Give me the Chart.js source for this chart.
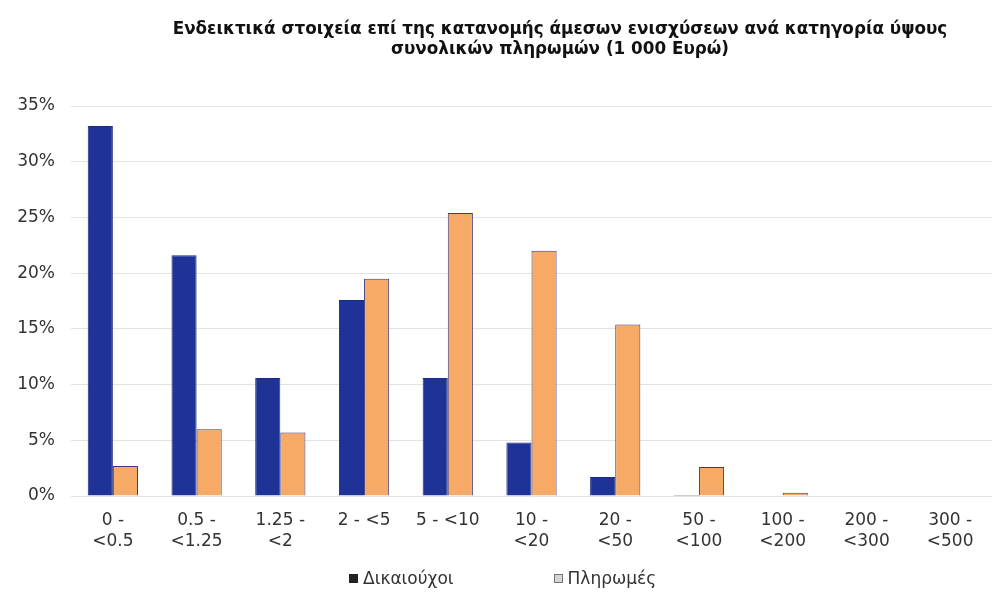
<!DOCTYPE html>
<html>
<head>
<meta charset="utf-8">
<script src="https://cdn.jsdelivr.net/npm/chart.js@4/dist/chart.umd.min.js"></script>
<style>
    html, body { margin: 0; padding: 0; background: #ffffff; overflow: hidden; }
    #wrap { position: relative; width: 992px; height: 599px; }
    #distChart { position: absolute; left: 0; top: 0; }
    .chart-title {
        position: absolute; left: 0; top: 18px; width: 1120px;
        text-align: center; font: bold 16.8px/20px "DejaVu Sans", sans-serif; color: #111;
    }
    .chart-legend {
        position: absolute; left: 349px; top: 568px; display: flex;
        font: 17px/20px "DejaVu Sans", sans-serif; color: #333;
    }
    .legend-item { display: flex; align-items: center; margin-right: 100px; }
    .legend-box { width: 9px; height: 9px; margin-right: 5px; box-sizing: border-box; }
</style>
</head>
<body>
<div id="wrap">
    <canvas id="distChart"></canvas>
    <div class="chart-title" id="chartTitle"></div>
    <div class="chart-legend" id="chartLegend"></div>
</div>
<script>
// Payment brackets (thousand euro)
const categories = [
    ['0 -', '<0.5'], ['0.5 -', '<1.25'], ['1.25 -', '<2'], '2 - <5', '5 - <10',
    ['10 -', '<20'], ['20 -', '<50'], ['50 -', '<100'], ['100 -', '<200'],
    ['200 -', '<300'], ['300 -', '<500']
];
// Share of beneficiaries and of payments per bracket (%)
const beneficiaries = [33.2, 21.6, 10.6, 17.6, 10.6, 4.8, 1.7, 0.1, 0, 0, 0];
const payments = [2.7, 6.0, 5.7, 19.5, 25.4, 22.0, 15.4, 2.6, 0.3, 0, 0];
const seriesNames = ['Δικαιούχοι', 'Πληρωμές'];
const yTicks = [0, 5, 10, 15, 20, 25, 30, 35];
const titleLines = [
    'Ενδεικτικά στοιχεία επί της κατανομής άμεσων ενισχύσεων ανά κατηγορία ύψους',
    'συνολικών πληρωμών (1 000 Ευρώ)'
];

const legendStyles = [
    'background:#222;border:1px solid #222',
    'background:#d4d4d4;border:1px solid #777'
];

document.getElementById('chartTitle').innerHTML = titleLines.join('<br>');
document.getElementById('chartLegend').innerHTML = seriesNames.map((name, i) => `
    <div class="legend-item">
        <span class="legend-box" style="${legendStyles[i]}"></span>${name}
    </div>
`).join('');

const ctx = document.getElementById('distChart');
ctx.width = 992;
ctx.height = 599;

new Chart(ctx, {
    type: 'bar',
    data: {
        labels: categories,
        datasets: [{
            label: seriesNames[0],
            data: beneficiaries,
            backgroundColor: '#1f3297',
            borderColor: '#1a2a80',
            borderWidth: 1,
            categoryPercentage: 0.6,
            barPercentage: 1.0
        }, {
            label: seriesNames[1],
            data: payments,
            backgroundColor: '#f6aa65',
            borderColor: '#3b3a7a',
            borderWidth: 1,
            categoryPercentage: 0.6,
            barPercentage: 1.0
        }]
    },
    options: {
        responsive: false,
        animation: false,
        layout: {
            padding: { left: 8, right: 0, top: 106, bottom: 0 }
        },
        plugins: {
            title: { display: false },
            legend: { display: false },
            tooltip: { enabled: false }
        },
        scales: {
            y: {
                min: 0,
                max: 35,
                afterBuildTicks: (axis) => {
                    axis.ticks = yTicks.map(v => ({ value: v }));
                },
                afterFit: (axis) => {
                    axis.width = 63;
                },
                grid: {
                    color: '#e2e2e2',
                    drawTicks: false
                },
                border: { display: false },
                ticks: {
                    color: '#333333',
                    font: { family: 'DejaVu Sans', size: 17 },
                    padding: 16,
                    callback: (v) => v + '%'
                }
            },
            x: {
                afterFit: (axis) => {
                    axis.height = 103;
                },
                grid: { display: false, drawTicks: false },
                border: { display: false },
                ticks: {
                    color: '#333333',
                    font: { family: 'DejaVu Sans', size: 17, lineHeight: 1.18 },
                    padding: 15,
                    maxRotation: 0,
                    autoSkip: false
                }
            }
        }
    }
});
</script>
</body>
</html>
